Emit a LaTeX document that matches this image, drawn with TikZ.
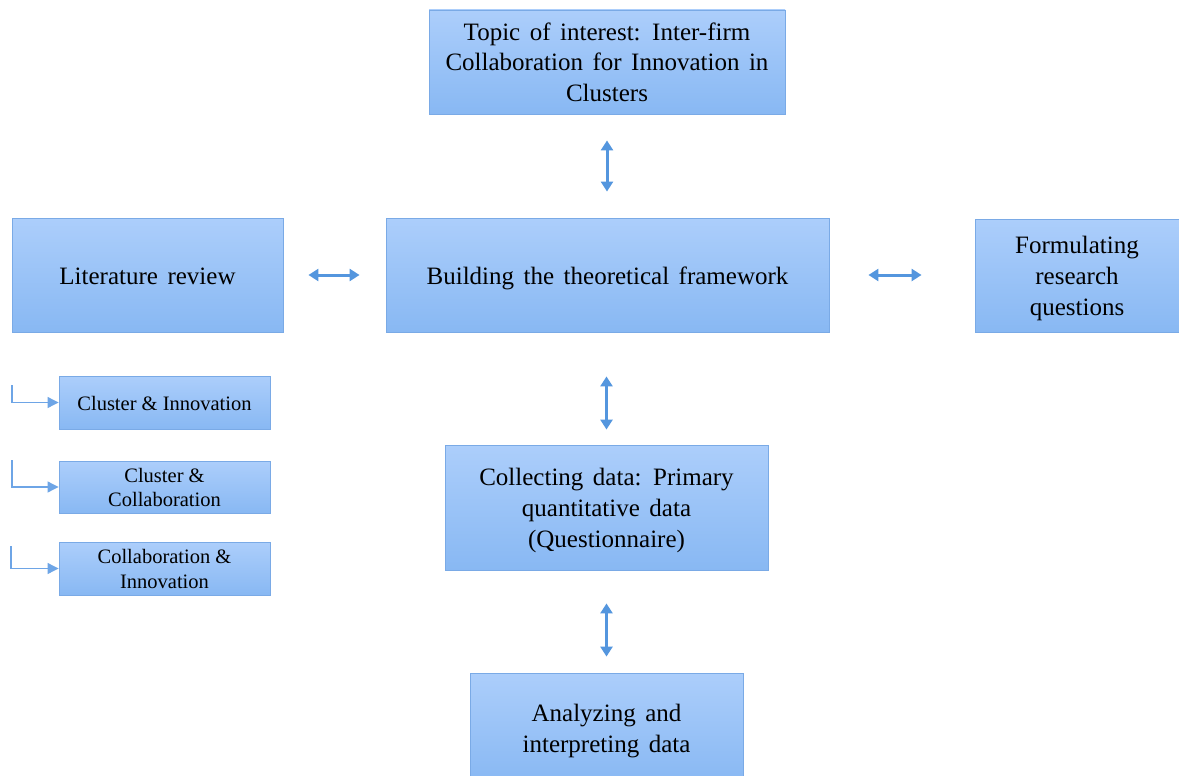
\documentclass[tikz,border=0pt]{standalone}
\usepackage{fontspec}
\setmainfont{Liberation Serif}
\usetikzlibrary{arrows.meta}
\definecolor{boxtop}{RGB}{172,206,251}
\definecolor{boxbot}{RGB}{136,184,243}
\definecolor{boxline}{RGB}{122,170,230}
\definecolor{arrowblue}{RGB}{84,150,222}
\definecolor{elbowblue}{RGB}{110,165,230}
\newcommand\widesp{\spaceskip=0.38em plus 0.1em\relax}
\newcommand\bigfont{\fontsize{25}{31}\selectfont\widesp}
\newcommand\smallfont{\fontsize{20.5}{24.5}\selectfont}
\tikzset{
  bigbox/.style={draw=boxline, line width=0.9pt, top color=boxtop, bottom color=boxbot,
    inner sep=0pt, align=center, text=black, font=\bigfont,
    execute at begin node={\rule{0pt}{24pt}},
    execute at end node={\rule[-6pt]{0pt}{6pt}}},
  smallbox/.style={draw=boxline, line width=0.9pt, top color=boxtop, bottom color=boxbot,
    inner sep=0pt, align=center, text=black, font=\smallfont,
    execute at begin node={\rule{0pt}{20pt}},
    execute at end node={\rule[-5pt]{0pt}{5pt}}},
  tall/.style={execute at begin node={\rule{0pt}{#1}}},
  dbl/.style={draw=arrowblue, line width=3pt,
    {Triangle[length=10pt,width=12pt]}-{Triangle[length=10pt,width=12pt]}},
  elbow/.style={draw=elbowblue, line width=1.1pt, -{Triangle[length=11pt,width=11pt]}}
}
\begin{document}
\begin{tikzpicture}[x=1pt,y=-1pt]
\useasboundingbox (0,0) rectangle (1179,776);
\fill[white] (0,0) rectangle (1179,776);

\node[bigbox, tall=86pt, minimum width=356pt, minimum height=104pt] (topic) at (607,62)
  {Topic of interest: Inter-firm\\Collaboration for Innovation in\\Clusters};
\node[bigbox, minimum width=271pt, minimum height=114pt] (lit) at (147.5,275)
  {Literature review};
\node[bigbox, minimum width=443pt, minimum height=114pt] (build) at (607.5,275)
  {Building the theoretical framework};
\node[bigbox, tall=86pt, minimum width=204pt, minimum height=113pt] (form) at (1077,275.5)
  {Formulating\\research\\questions};
\node[smallbox, minimum width=211pt, minimum height=53pt] (ci) at (164.5,402.5)
  {Cluster \& Innovation};
\node[smallbox, tall=44.5pt, minimum width=211pt, minimum height=52pt] (cc) at (164.5,487)
  {Cluster \&\\Collaboration};
\node[smallbox, tall=44.5pt, minimum width=211pt, minimum height=53pt] (cin) at (164.5,568.5)
  {Collaboration \&\\Innovation};
\node[bigbox, tall=86pt, minimum width=323pt, minimum height=125pt] (collect) at (606.5,507.5)
  {Collecting data: Primary\\quantitative data\\(Questionnaire)};
\node[bigbox, tall=55pt, minimum width=273pt, minimum height=110pt] (anal) at (606.5,728)
  {Analyzing and\\interpreting data};

\draw[dbl, shorten <=26pt, shorten >=26pt] (topic.south) -- (topic.south |- build.north);
\draw[dbl, shorten <=25pt, shorten >=26pt] (lit.east) -- (build.west);
\draw[dbl, shorten <=39pt, shorten >=53pt] (build.east) -- (build.east -| form.west);
\draw[dbl, shorten <=44pt, shorten >=15pt] (build.south -| collect.north) -- (collect.north);
\draw[dbl, shorten <=33pt, shorten >=16pt] (collect.south) -- (anal.north);

\coordinate (e1) at (12,385);
\coordinate (e2) at (12,460);
\coordinate (e3) at (11,546);
\draw[elbow] (e1) |- (ci.west);
\draw[elbow] (e2) |- (cc.west);
\draw[elbow] (e3) |- (cin.west);
\end{tikzpicture}
\end{document}
